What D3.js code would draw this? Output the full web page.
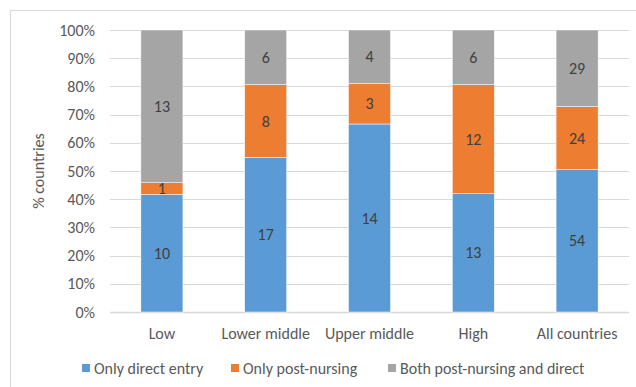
<!DOCTYPE html>
<html>
<head>
<meta charset="utf-8">
<script src="https://cdn.jsdelivr.net/npm/d3@7"></script>
<style>
  body { margin: 0; background: #fff; }
  svg text { font-family: Carlito, "Liberation Sans", Arial, sans-serif; }
</style>
</head>
<body>
<svg id="chart" width="636" height="387"></svg>
<script>
// Country income groups
const categories = ['Low', 'Lower middle', 'Upper middle', 'High', 'All countries']
const seriesNames = ['Only direct entry', 'Only post-nursing', 'Both post-nursing and direct']
const directEntry = [10, 17, 14, 13, 54]
const postNursing = [1, 8, 3, 12, 24]
const bothRoutes = [13, 6, 4, 6, 29]
const yTicks = [0, 0.1, 0.2, 0.3, 0.4, 0.5, 0.6, 0.7, 0.8, 0.9, 1]
const colors = ['#5B9BD5', '#ED7D31', '#A5A5A5']

const svg = d3.select('#chart')
const margin = { top: 30, right: 7, bottom: 75, left: 110 }
const width = 636
const height = 387
const fs = 16

// chart frame
svg.append('rect')
  .attr('x', 10.5).attr('y', 10.5)
  .attr('width', 640).attr('height', 400)
  .attr('fill', 'none').attr('stroke', '#d9d9d9')

// build table for stacking
const rows = categories.map((c, i) => {
  const total = directEntry[i] + postNursing[i] + bothRoutes[i]
  return { cat: c, s0: directEntry[i] / total, s1: postNursing[i] / total, s2: bothRoutes[i] / total, v: [directEntry[i], postNursing[i], bothRoutes[i]] }
})

const x = d3.scaleBand()
  .domain(categories)
  .range([margin.left, width - margin.right])
  .paddingInner(0.595)
  .paddingOuter(0.2975)

const y = d3.scaleLinear()
  .domain([0, 1])
  .range([height - margin.bottom, margin.top])

// gridlines
svg.append('g')
  .selectAll('line')
  .data(yTicks)
  .enter()
  .append('line')
  .attr('x1', margin.left).attr('x2', width - margin.right)
  .attr('y1', d => Math.round(y(d)) + 0.5).attr('y2', d => Math.round(y(d)) + 0.5)
  .attr('stroke', '#d9d9d9')
  .attr('stroke-width', d => d === 0 ? 1.5 : 1)

// y axis labels
svg.append('g')
  .selectAll('text')
  .data(yTicks)
  .enter()
  .append('text')
  .attr('x', 95)
  .attr('y', d => y(d))
  .attr('dy', '0.35em')
  .attr('text-anchor', 'end')
  .attr('font-size', fs)
  .attr('fill', '#595959')
  .text(d3.format('.0%'))

svg.append('text')
  .attr('transform', `translate(44, ${(y(0) + y(1)) / 2}) rotate(-90)`)
  .attr('text-anchor', 'middle')
  .attr('font-size', fs)
  .attr('fill', '#595959')
  .text('% countries')

const stack = d3.stack().keys(['s0', 's1', 's2'])
const layers = stack(rows)

const g = svg.append('g')
layers.forEach((layer, k) => {
  const grp = g.append('g')
  grp.selectAll('rect')
    .data(layer)
    .enter()
    .append('rect')
    .attr('x', d => x(d.data.cat))
    .attr('width', x.bandwidth())
    .attr('y', d => y(d[1]))
    .attr('height', d => y(d[0]) - y(d[1]))
    .attr('fill', colors[k])
    .attr('stroke', '#fff')
    .attr('stroke-width', 0.5)

  grp.selectAll('text')
    .data(layer)
    .enter()
    .append('text')
    .attr('x', d => x(d.data.cat) + x.bandwidth() / 2)
    .attr('y', d => (y(d[0]) + y(d[1])) / 2)
    .attr('dy', '0.35em')
    .attr('text-anchor', 'middle')
    .attr('font-size', fs)
    .attr('fill', '#404040')
    .text(d => d.data.v[k])
})

// category labels
svg.append('g')
  .selectAll('text')
  .data(categories)
  .enter()
  .append('text')
  .attr('x', d => x(d) + x.bandwidth() / 2)
  .attr('y', 333)
  .attr('dy', '0.35em')
  .attr('text-anchor', 'middle')
  .attr('font-size', fs)
  .attr('fill', '#595959')
  .text(d => d)

// legend
const legendX = [82, 231, 388]
const legend = svg.append('g')
  .selectAll('g')
  .data(seriesNames)
  .enter()
  .append('g')
  .attr('transform', (d, i) => `translate(${legendX[i]}, 368)`)
legend.append('rect')
  .attr('x', 0).attr('y', -4)
  .attr('width', 8).attr('height', 8)
  .attr('fill', (d, i) => colors[i])
legend.append('text')
  .attr('x', 12)
  .attr('dy', '0.35em')
  .attr('font-size', fs)
  .attr('fill', '#595959')
  .text(d => d)
</script>
</body>
</html>
